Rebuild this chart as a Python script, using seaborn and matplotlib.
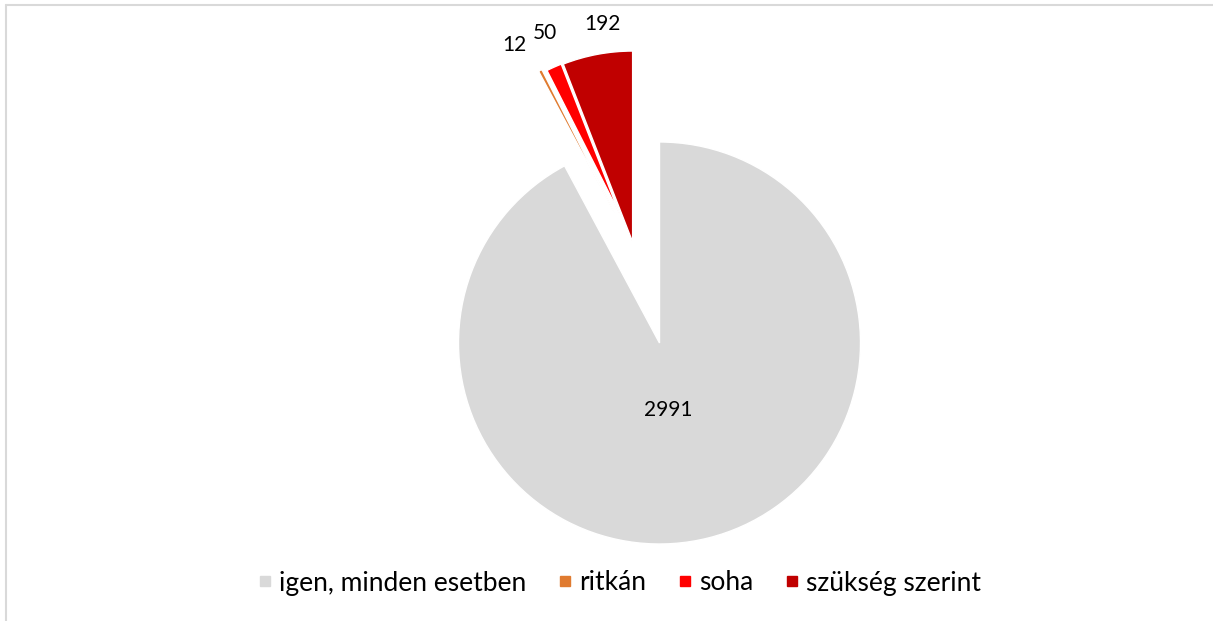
import numpy as np
import matplotlib
matplotlib.use("Agg")
import matplotlib.pyplot as plt
import seaborn as sns
from matplotlib.lines import Line2D

# ---- data ----
categories = ["igen, minden esetben", "ritkán", "soha", "szükség szerint"]
values = [2991, 12, 50, 192]
colors = ["#D9D9D9", "#E07B30", "#FF0000", "#C00000"]

# ---- style (per-slice explosion / radius / label placement) ----
explode_dist = [0.0, 0.685, 0.672, 0.520]      # in radii
explode_shift = [0.0, -8.4, -6.9, 4.25]         # deg, relative to bisector
slice_radius = [1.0, 0.80, 0.80, 0.95]
label_dist = [0.336, 1.215, 1.22, 1.15]         # in own radius
label_shift = [-6.8, 3.3, -1.7, -2.85]          # deg, relative to bisector

sns.set_theme(style="white")
plt.rcParams['font.family'] = ['Lato', 'DejaVu Sans']

W, H = 1213, 621
fig = plt.figure(figsize=(W / 100, H / 100), dpi=100)
fig.patch.set_facecolor("white")
ax = fig.add_axes([0, 0, 1, 1])

wedges, _ = ax.pie(values, colors=colors, startangle=90, counterclock=False,
                   wedgeprops=dict(linewidth=1.0, edgecolor="white"))

R_PX = 201.0
cx_px, cy_px = 659.5, 343.0
ax.set_xlim(-cx_px / R_PX, (W - cx_px) / R_PX)
ax.set_ylim(-(H - cy_px) / R_PX, cy_px / R_PX)
ax.set_aspect("auto")
ax.axis("off")

for i, w in enumerate(wedges):
    mid = np.deg2rad((w.theta1 + w.theta2) / 2 + explode_shift[i])
    cx = explode_dist[i] * np.cos(mid)
    cy = explode_dist[i] * np.sin(mid)
    w.set_center((cx, cy))
    w.set_radius(slice_radius[i])
    la = np.deg2rad((w.theta1 + w.theta2) / 2 + label_shift[i])
    lx = cx + slice_radius[i] * label_dist[i] * np.cos(la)
    ly = cy + slice_radius[i] * label_dist[i] * np.sin(la)
    ax.text(lx, ly, f"{values[i]}", ha="center", va="center",
            fontsize=15, color="#000000")

# legend
handles = [Line2D([0], [0], marker="s", linestyle="none", markersize=7.5,
                  markerfacecolor=c, markeredgecolor=c) for c in colors]
fig.legend(handles, categories, loc="center", bbox_to_anchor=(620 / W, 1 - 583 / H),
           ncol=4, frameon=False, fontsize=19, handlelength=0.45,
           handletextpad=0.3, columnspacing=1.25, labelcolor="#000000")

# chart border (top and left visible)
fig.add_artist(Line2D([6 / W, 1], [1 - 5 / H, 1 - 5 / H], transform=fig.transFigure,
                      color="#D9D9D9", linewidth=1.5))
fig.add_artist(Line2D([6 / W, 6 / W], [0, 1 - 5 / H], transform=fig.transFigure,
                      color="#D9D9D9", linewidth=1.5))

fig.savefig("out.png", dpi=100, facecolor="white")
